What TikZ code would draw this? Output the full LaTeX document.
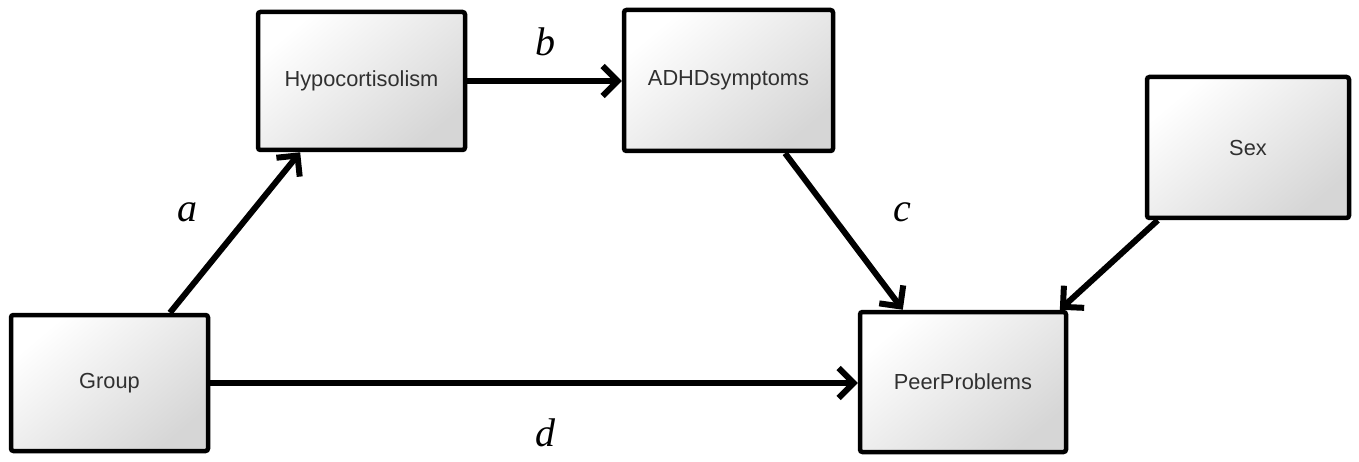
\documentclass[tikz,border=0pt]{standalone}
\usepackage{fontspec}
\setmainfont{Liberation Serif}
\setsansfont{Liberation Sans}
\usetikzlibrary{arrows.meta,calc}
\definecolor{boxtext}{HTML}{303030}
\tikzset{
  varbox/.style={draw=black, line width=4.5pt, rounded corners=2.5pt,
    top color=white, bottom color=black!16, shading angle=40,
    inner sep=0pt, text=boxtext,
    font=\sffamily\fontsize{21.8}{24}\selectfont},
  path/.style={line width=6pt, -{Straight Barb[length=15pt,width=30pt]}},
  plabel/.style={font=\fontsize{40}{40}\selectfont\itshape}
}
\begin{document}
\begin{tikzpicture}[x=1pt,y=-1pt]
\useasboundingbox (0,0) rectangle (1359,462);
\node[varbox, minimum width=207pt, minimum height=138pt] (hypo) at (361.5,81) {Hypocortisolism};
\node[varbox, minimum width=209pt, minimum height=141pt] (adhd) at (728.5,80.5) {ADHDsymptoms};
\node[varbox, minimum width=202pt, minimum height=141pt] (sex) at (1248,147.5) {Sex};
\node[varbox, minimum width=197pt, minimum height=136pt] (group) at (109.5,383) {Group};
\node[varbox, minimum width=206pt, minimum height=140pt] (peer) at (963,382) {PeerProblems};

\draw[path] ($(group.north west)!0.8!(group.north east)$) -- ($(hypo.south west)!0.21!(hypo.south east)$);
\draw[path] (hypo.east) -- (adhd.west |- hypo.east);
\draw[path] ($(adhd.south west)!0.765!(adhd.south east)$) -- ($(peer.north west)!0.214!(peer.north east)$);
\draw[path] ($(sex.south west)!0.063!(sex.south east)$) -- ($(peer.north west)!0.96!(peer.north east)$);
\draw[path] (group.east) -- (peer.west |- group.east);

\node[plabel] (la) at (187,212) {a};
\node[plabel] (lb) at (545,42) {b};
\node[plabel] (lc) at (902,212) {c};
\node[plabel] (ld) at (545,433) {d};
\end{tikzpicture}
\end{document}
